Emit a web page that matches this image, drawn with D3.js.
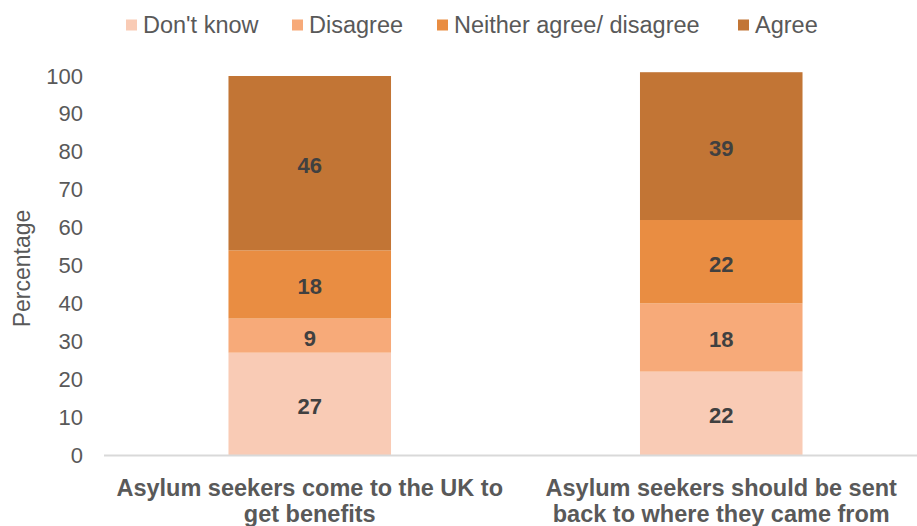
<!DOCTYPE html>
<html>
<head>
<meta charset="utf-8">
<script src="https://cdn.jsdelivr.net/npm/d3@7"></script>
<style>
  html, body { margin: 0; padding: 0; background: #fff; }
  svg { display: block; font-family: "Liberation Sans", Arial, sans-serif; }
</style>
</head>
<body>
<svg id="chart" width="917" height="526"></svg>
<script>
// Survey responses, percentages per statement
const statements = [
  ["Asylum seekers come to the UK to", "get benefits"],
  ["Asylum seekers should be sent", "back to where they came from"]
];
const responses = ["Don't know", "Disagree", "Neither agree/ disagree", "Agree"];
const dontKnow = [27, 22];
const disagree = [9, 18];
const neither = [18, 22];
const agree = [46, 39];
const yTicks = [0, 10, 20, 30, 40, 50, 60, 70, 80, 90, 100];
const colors = ["#F9CBB5", "#F7AA79", "#E98D42", "#C27535"];

const rows = statements.map((s, i) => ({
  key: i,
  "Don't know": dontKnow[i],
  "Disagree": disagree[i],
  "Neither agree/ disagree": neither[i],
  "Agree": agree[i]
}));

const svg = d3.select("#chart");
const plotL = 104, plotR = 927, plotT = 76, plotB = 455;

const x = d3.scaleBand().domain(rows.map(d => d.key)).range([plotL, plotR]).padding(0);
const y = d3.scaleLinear().domain([0, 100]).range([plotB, plotT]);
const color = d3.scaleOrdinal().domain(responses).range(colors);
const barW = x.bandwidth() * 0.395;

const stacked = d3.stack().keys(responses)(rows);

// Stacked bars
const layers = svg.append("g").selectAll("g").data(stacked).join("g")
  .attr("fill", d => color(d.key));
layers.selectAll("rect").data(d => d).join("rect")
  .attr("x", d => x(d.data.key) + (x.bandwidth() - barW) / 2)
  .attr("width", barW)
  .attr("y", d => y(d[1]))
  .attr("height", d => y(d[0]) - y(d[1]));

// Segment value labels
layers.selectAll("text").data(d => d.map(v => ({ v, key: d.key }))).join("text")
  .attr("x", d => x(d.v.data.key) + x.bandwidth() / 2)
  .attr("y", d => y((d.v[0] + d.v[1]) / 2))
  .attr("dy", "0.45em")
  .attr("text-anchor", "middle")
  .attr("font-size", 22)
  .attr("font-weight", "bold")
  .attr("fill", "#404040")
  .text(d => d.v.data[d.key]);

// Baseline
svg.append("line")
  .attr("x1", plotL).attr("x2", 917)
  .attr("y1", plotB + 0.5).attr("y2", plotB + 0.5)
  .attr("stroke", "#D9D9D9").attr("stroke-width", 2);

// Y axis tick labels
const yAxis = d3.axisLeft(y).tickValues(yTicks).tickSize(0).tickPadding(0);
const gy = svg.append("g").attr("transform", "translate(83,0)").call(yAxis);
gy.select(".domain").remove();
gy.selectAll("text")
  .attr("font-size", 22)
  .attr("font-family", "\"Liberation Sans\", Arial, sans-serif")
  .attr("fill", "#595959");

// Y axis title
svg.append("text")
  .attr("transform", `translate(30,${(plotT + plotB) / 2 + 3}) rotate(-90)`)
  .attr("text-anchor", "middle")
  .attr("font-size", 23)
  .attr("fill", "#595959")
  .text("Percentage");

// Category labels
const cat = svg.append("g").selectAll("text").data(rows).join("text")
  .attr("x", d => x(d.key) + x.bandwidth() / 2)
  .attr("text-anchor", "middle")
  .attr("font-size", 23.5)
  .attr("font-weight", "bold")
  .attr("fill", "#595959");
cat.selectAll("tspan").data(d => statements[d.key].map((t, j) => ({ t, j, cx: x(d.key) + x.bandwidth() / 2 }))).join("tspan")
  .attr("x", d => d.cx)
  .attr("y", d => 496 + d.j * 25.5)
  .text(d => d.t);

// Legend
const legendX = [126, 292, 437, 738];
const legend = svg.append("g").selectAll("g").data(responses).join("g")
  .attr("transform", (d, i) => `translate(${legendX[i]},19.5)`);
legend.append("rect").attr("width", 11).attr("height", 11).attr("fill", d => color(d));
legend.append("text")
  .attr("x", 17).attr("y", 5.5).attr("dy", "0.36em")
  .attr("font-size", 23.5)
  .attr("fill", "#595959")
  .text(d => d);
</script>
</body>
</html>
